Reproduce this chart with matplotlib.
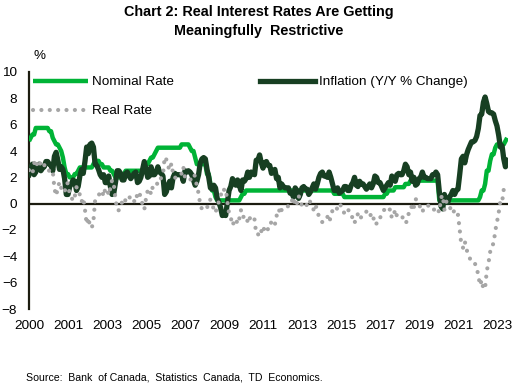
import numpy as np
import matplotlib
matplotlib.use("Agg")
import matplotlib.pyplot as plt

plt.rcParams['font.family'] = ['Liberation Sans', 'DejaVu Sans']

# Monthly data, Jan 2000 onwards
nominal = [
    4.75, 5.0, 5.25, 5.25, 5.75, 5.75, 5.75, 5.75, 5.75, 5.75, 5.75, 5.75,   # 2000
    5.5, 5.5, 5.0, 4.75, 4.5, 4.5, 4.25, 4.0, 3.5, 2.75, 2.25, 2.25,          # 2001
    2.0, 2.0, 2.0, 2.25, 2.25, 2.5, 2.75, 2.75, 2.75, 2.75, 2.75, 2.75,       # 2002
    2.75, 2.75, 3.0, 3.25, 3.25, 3.25, 3.0, 3.0, 2.75, 2.75, 2.75, 2.75,      # 2003
    2.5, 2.5, 2.25, 2.0, 2.0, 2.0, 2.0, 2.0, 2.25, 2.5, 2.5, 2.5,             # 2004
    2.5, 2.5, 2.5, 2.5, 2.5, 2.5, 2.5, 2.5, 2.75, 3.0, 3.0, 3.25,             # 2005
    3.5, 3.5, 3.75, 4.0, 4.25, 4.25, 4.25, 4.25, 4.25, 4.25, 4.25, 4.25,      # 2006
    4.25, 4.25, 4.25, 4.25, 4.25, 4.25, 4.5, 4.5, 4.5, 4.5, 4.5, 4.25,        # 2007
    4.0, 4.0, 3.5, 3.0, 3.0, 3.0, 3.0, 3.0, 3.0, 2.25, 2.25, 1.5,             # 2008
    1.0, 1.0, 0.5, 0.25, 0.25, 0.25, 0.25, 0.25, 0.25, 0.25, 0.25, 0.25,      # 2009
    0.25, 0.25, 0.25, 0.25, 0.25, 0.5, 0.75, 0.75, 1.0, 1.0, 1.0, 1.0,        # 2010
    1.0, 1.0, 1.0, 1.0, 1.0, 1.0, 1.0, 1.0, 1.0, 1.0, 1.0, 1.0,               # 2011
    1.0, 1.0, 1.0, 1.0, 1.0, 1.0, 1.0, 1.0, 1.0, 1.0, 1.0, 1.0,               # 2012
    1.0, 1.0, 1.0, 1.0, 1.0, 1.0, 1.0, 1.0, 1.0, 1.0, 1.0, 1.0,               # 2013
    1.0, 1.0, 1.0, 1.0, 1.0, 1.0, 1.0, 1.0, 1.0, 1.0, 1.0, 1.0,               # 2014
    0.75, 0.75, 0.75, 0.75, 0.75, 0.75, 0.5, 0.5, 0.5, 0.5, 0.5, 0.5,         # 2015
    0.5, 0.5, 0.5, 0.5, 0.5, 0.5, 0.5, 0.5, 0.5, 0.5, 0.5, 0.5,               # 2016
    0.5, 0.5, 0.5, 0.5, 0.5, 0.5, 0.75, 0.75, 1.0, 1.0, 1.0, 1.0,             # 2017
    1.25, 1.25, 1.25, 1.25, 1.25, 1.25, 1.5, 1.5, 1.5, 1.75, 1.75, 1.75,      # 2018
    1.75, 1.75, 1.75, 1.75, 1.75, 1.75, 1.75, 1.75, 1.75, 1.75, 1.75, 1.75,   # 2019
    1.75, 1.75, 0.25, 0.25, 0.25, 0.25, 0.25, 0.25, 0.25, 0.25, 0.25, 0.25,   # 2020
    0.25, 0.25, 0.25, 0.25, 0.25, 0.25, 0.25, 0.25, 0.25, 0.25, 0.25, 0.25,   # 2021
    0.25, 0.25, 0.5, 1.0, 1.0, 1.5, 2.5, 2.5, 3.25, 3.75, 3.75, 4.25,         # 2022
    4.5, 4.5, 4.5, 4.5, 4.5, 4.75, 5.0,                                       # 2023
]

inflation = [
    2.2, 2.7, 3.0, 2.2, 2.4, 2.9, 3.0, 2.5, 2.7, 2.8, 3.2, 3.2,   # 2000
    3.0, 2.9, 2.5, 3.6, 3.9, 3.3, 2.6, 2.8, 2.6, 1.9, 0.7, 0.7,   # 2001
    1.3, 1.5, 1.8, 1.7, 1.0, 1.3, 2.1, 2.6, 2.3, 3.2, 4.3, 3.8,   # 2002
    4.5, 4.6, 4.3, 3.0, 2.9, 2.6, 2.2, 2.0, 2.2, 1.6, 1.6, 2.1,   # 2003
    1.3, 0.7, 0.8, 1.6, 2.5, 2.5, 2.3, 1.8, 1.8, 2.3, 2.4, 2.1,   # 2004
    1.9, 2.1, 2.3, 2.4, 1.6, 1.7, 2.0, 2.6, 3.2, 2.6, 2.0, 2.1,   # 2005
    2.8, 2.2, 2.2, 2.4, 2.8, 2.4, 2.3, 2.1, 0.7, 0.9, 1.4, 1.7,   # 2006
    1.2, 2.0, 2.3, 2.2, 2.2, 2.2, 2.2, 1.7, 2.5, 2.4, 2.5, 2.4,   # 2007
    2.2, 1.8, 1.4, 1.7, 2.2, 3.1, 3.4, 3.5, 3.4, 2.6, 2.0, 1.2,   # 2008
    1.1, 1.4, 1.2, 0.4, 0.1, -0.3, -0.9, -0.8, -0.9, 0.1, 1.0, 1.3,  # 2009
    1.9, 1.6, 1.4, 1.8, 1.4, 1.0, 1.8, 1.7, 1.9, 2.4, 2.0, 2.4,   # 2010
    2.3, 2.2, 3.3, 3.3, 3.7, 3.1, 2.7, 3.1, 3.2, 2.9, 2.9, 2.3,   # 2011
    2.5, 2.6, 1.9, 2.0, 1.2, 1.5, 1.3, 1.2, 1.2, 1.2, 0.8, 0.8,   # 2012
    0.5, 1.2, 1.0, 0.4, 0.7, 1.2, 1.3, 1.1, 1.1, 0.7, 0.9, 1.2,   # 2013
    1.5, 1.1, 1.5, 2.0, 2.3, 2.4, 2.1, 2.1, 2.0, 2.4, 2.0, 1.5,   # 2014
    1.0, 1.0, 1.2, 0.8, 0.9, 1.0, 1.3, 1.3, 1.0, 1.0, 1.4, 1.6,   # 2015
    2.0, 1.4, 1.3, 1.7, 1.5, 1.5, 1.3, 1.1, 1.3, 1.5, 1.2, 1.5,   # 2016
    2.1, 2.0, 1.6, 1.6, 1.3, 1.0, 1.2, 1.4, 1.6, 1.4, 2.1, 1.9,   # 2017
    1.7, 2.2, 2.3, 2.2, 2.2, 2.5, 3.0, 2.8, 2.2, 2.4, 1.7, 2.0,   # 2018
    1.4, 1.5, 1.9, 2.0, 2.4, 2.0, 2.0, 1.9, 1.9, 1.9, 2.2, 2.2,   # 2019
    2.4, 2.2, 0.9, -0.2, -0.4, 0.7, 0.1, 0.1, 0.5, 0.7, 1.0, 0.7,  # 2020
    1.0, 1.1, 2.2, 3.4, 3.6, 3.1, 3.7, 4.1, 4.4, 4.7, 4.7, 4.8,   # 2021
    5.1, 5.7, 6.7, 6.8, 7.7, 8.1, 7.6, 7.0, 6.9, 6.9, 6.8, 6.3,   # 2022
    5.9, 5.2, 4.3, 4.4, 3.4, 2.8, 3.3,                            # 2023
]

real = [
    2.55, 2.3, 2.25, 3.05, 3.35, 2.85, 2.75, 3.25, 3.05, 2.95, 2.55, 2.55,      # 2000
    2.5, 2.6, 2.5, 1.15, 0.6, 1.2, 1.65, 1.2, 0.9, 0.85, 1.55, 1.55,            # 2001
    0.7, 0.5, 0.2, 0.55, 1.25, 1.2, 0.65, 0.15, 0.45, -0.45, -1.55, -1.05,      # 2002
    -1.75, -1.85, -1.3, 0.25, 0.35, 0.65, 0.8, 1.0, 0.55, 1.15, 1.15, 0.65,     # 2003
    1.2, 1.8, 1.45, 0.4, -0.5, -0.5, -0.3, 0.2, 0.45, 0.2, 0.1, 0.4,            # 2004
    0.6, 0.4, 0.2, 0.1, 0.9, 0.8, 0.5, -0.1, -0.45, 0.4, 1.0, 1.15,             # 2005
    0.7, 1.3, 1.55, 1.6, 1.45, 1.85, 1.95, 2.15, 3.55, 3.35, 2.85, 2.55,        # 2006
    3.05, 2.25, 1.95, 2.05, 2.05, 2.05, 2.3, 2.8, 2.0, 2.1, 2.0, 1.85,          # 2007
    1.8, 2.2, 2.1, 1.3, 0.8, -0.1, -0.4, -0.5, -0.4, -0.35, 0.25, 0.3,          # 2008
    -0.1, -0.4, -0.7, -0.15, 0.15, 0.55, 1.15, 1.05, 1.15, 0.15, -0.75, -1.05,  # 2009
    -1.65, -1.35, -1.15, -1.55, -1.15, -0.5, -1.05, -0.95, -0.9, -1.4, -1.0, -1.4,  # 2010
    -1.3, -1.2, -2.3, -2.3, -2.5, -2.1, -1.7, -2.1, -2.2, -1.9, -1.9, -1.3,     # 2011
    -1.5, -1.6, -0.9, -1.0, -0.2, -0.5, -0.3, -0.2, -0.2, -0.2, 0.2, 0.2,       # 2012
    0.5, -0.2, 0.0, 0.6, 0.3, -0.2, -0.3, -0.1, -0.1, 0.3, 0.1, -0.2,           # 2013
    -0.5, -0.1, -0.5, -1.0, -1.3, -1.4, -1.1, -1.1, -1.0, -1.4, -1.0, -0.5,     # 2014
    -0.25, -0.25, -0.45, -0.05, -0.15, -0.25, -0.8, -0.8, -0.5, -0.5, -0.9, -1.1,  # 2015
    -1.5, -0.9, -0.8, -1.2, -1.0, -1.0, -0.8, -0.6, -0.8, -1.0, -0.7, -1.0,     # 2016
    -1.6, -1.5, -1.1, -1.1, -0.8, -0.5, -0.45, -0.65, -0.6, -0.4, -1.1, -0.9,   # 2017
    -0.45, -0.95, -1.05, -0.95, -0.95, -1.25, -1.5, -1.3, -0.7, -0.65, 0.05, -0.25,  # 2018
    0.35, 0.25, -0.15, -0.25, -0.65, -0.25, -0.25, -0.15, -0.15, -0.15, -0.45, -0.45,  # 2019
    -0.65, -0.45, -0.65, 0.45, 0.65, -0.45, 0.15, 0.15, -0.25, -0.45, -0.75, -0.45,  # 2020
    -0.75, -0.85, -1.95, -3.15, -3.35, -2.85, -3.45, -3.85, -4.15, -4.45, -4.45, -4.55,  # 2021
    -4.85, -5.45, -6.2, -5.8, -6.5, -6.4, -5.1, -4.5, -3.65, -3.15, -3.05, -2.05,  # 2022
    -1.4, -0.7, 0.2, 0.1, 1.1,                                                  # 2023
]

tick_labels = ["2000", "2001", "2003", "2005", "2007", "2009", "2011",
               "2013", "2015", "2017", "2019", "2021", "2023"]
tick_every_months = 23

GREEN = "#00B336"
DARK = "#173F22"
GRAY = "#A6A6A6"
AXIS = "#1C1C10"

m_nom = np.arange(len(nominal))
m_inf = np.arange(len(inflation))
m_real = np.arange(len(real))

fig = plt.figure(figsize=(5.17, 3.86), dpi=100)
ax = fig.add_axes([29 / 517, 1 - 309 / 386, (508 - 29) / 517, (309 - 72) / 386])

l1, = ax.plot(m_nom, nominal, color=GREEN, lw=3.2, solid_joinstyle='round',
              solid_capstyle='butt', label='Nominal Rate', zorder=3)
l2, = ax.plot(m_inf, inflation, color=DARK, lw=3.8, solid_joinstyle='round',
              label='Inflation (Y/Y % Change)', zorder=4)
l3, = ax.plot(m_real, real, color=GRAY, lw=3.0, linestyle=(0, (0.01, 2.0)),
              dash_capstyle='round', label='Real Rate', zorder=5)

ax.axhline(0, color=AXIS, lw=1.6, zorder=2)

ax.set_xlim(0, 282.5)
ax.set_ylim(-8, 10)
ax.set_yticks(np.arange(-8, 11, 2))
ax.set_xticks(np.arange(len(tick_labels)) * tick_every_months)
ax.set_xticklabels(tick_labels)

for s in ['top', 'right', 'bottom']:
    ax.spines[s].set_visible(False)
ax.spines['left'].set_color(AXIS)
ax.spines['left'].set_linewidth(1.6)

ax.tick_params(axis='both', length=0, labelsize=9.7, colors='black')
ax.tick_params(axis='y', pad=8.5)
ax.tick_params(axis='x', pad=8)
ax.patch.set_alpha(0)

leg = ax.legend(handles=[l1, l3, l2], ncol=2, loc='upper left',
                bbox_to_anchor=(0.008, 0.983), frameon=False, fontsize=9.7,
                handlelength=4.1, handletextpad=0.3, columnspacing=6.4,
                labelspacing=1.22, borderpad=0, borderaxespad=0)

fig.text(33 / 517, 1 - 56 / 386, "%", fontsize=9.7, ha='left', va='center')

fig.text(0.5, 1 - 12 / 386, "Chart 2: Real Interest Rates Are Getting",
         fontsize=10.4, fontweight='bold', ha='center', va='center')
fig.text(0.5, 1 - 31 / 386, "Meaningfully  Restrictive",
         fontsize=10.4, fontweight='bold', ha='center', va='center')

fig.text(26 / 517, 1 - 377 / 386,
         "Source:  Bank  of Canada,  Statistics  Canada,  TD  Economics.",
         fontsize=7.6, ha='left', va='center')

fig.savefig("out.png", dpi=100)
